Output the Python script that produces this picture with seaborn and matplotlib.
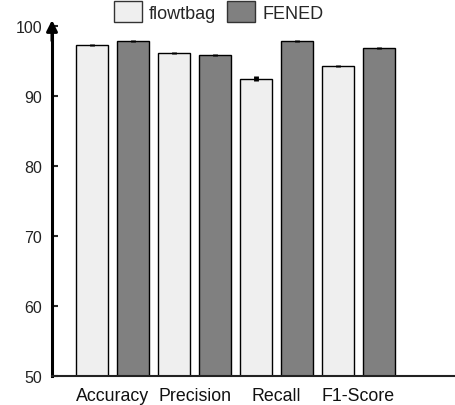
import matplotlib
matplotlib.use("Agg")
import matplotlib.pyplot as plt
import seaborn as sns
import pandas as pd
import numpy as np

categories = ["Accuracy", "Precision", "Recall", "F1-Score"]
methods = ["flowtbag", "FENED"]
flowtbag_vals = [97.3, 96.2, 92.5, 94.3]
fened_vals = [97.9, 95.9, 97.9, 96.9]
flowtbag_err = [0.1, 0.15, 0.3, 0.15]
fened_err = [0.12, 0.12, 0.12, 0.12]
yticks = [50, 60, 70, 80, 90, 100]

sns.set_style("white")
plt.rcParams["font.family"] = ["Liberation Sans", "DejaVu Sans"]

df = pd.DataFrame({
    "metric": categories * 2,
    "method": [methods[0]] * 4 + [methods[1]] * 4,
    "value": flowtbag_vals + fened_vals,
})
errs = flowtbag_err + fened_err

fig = plt.figure(figsize=(4.55, 4.06), dpi=100)
ax = fig.add_axes([0.1143, 0.0714, 0.8857, 0.862])

sns.barplot(data=df, x="metric", y="value", hue="method", order=categories,
            hue_order=methods, palette=["#efefef", "#808080"], width=1.0, gap=0.2,
            errorbar=None, edgecolor="black", linewidth=1.0, ax=ax, legend=True)

# error bars at bar positions
for cont, method in zip(ax.containers, methods):
    for i, patch in enumerate(cont.patches):
        x = patch.get_x() + patch.get_width() / 2
        h = patch.get_height()
        idx = methods.index(method) * 4 + i
        ax.errorbar(x, h, yerr=errs[idx], color="black", elinewidth=3.5,
                    capsize=0, zorder=5)

ax.set_ylim(50, 100)
ax.set_xlim(-0.738, 4.177)
ax.set_yticks(yticks)
ax.set_yticklabels([str(t) for t in yticks], fontsize=11.5, color="#222222")
ax.tick_params(axis="y", direction="in", length=4, width=1.5, left=True, pad=7)
ax.tick_params(axis="x", length=0, labelsize=12.8, labelcolor="#111111", pad=8)
ax.set_xlabel("")
ax.set_ylabel("")

for s in ["top", "right"]:
    ax.spines[s].set_visible(False)
ax.spines["left"].set_linewidth(2.2)
ax.spines["left"].set_color("black")
ax.spines["bottom"].set_linewidth(1.5)
ax.spines["bottom"].set_color("#222222")

# arrow at top of y-axis
ax.annotate("", xy=(0, 1.025), xycoords="axes fraction", xytext=(0, 0.95),
            textcoords="axes fraction",
            arrowprops=dict(arrowstyle="-|>", color="black", lw=2.2,
                            mutation_scale=16), annotation_clip=False)

leg = ax.legend(loc="lower center", bbox_to_anchor=(0.414, 0.99), ncol=2,
                frameon=False, fontsize=13, handlelength=1.55, handleheight=1.4,
                columnspacing=0.6, handletextpad=0.4, borderaxespad=0)
for h in leg.legend_handles:
    h.set_edgecolor("#333333")
    h.set_linewidth(1.0)

fig.savefig("out.png", dpi=100)
